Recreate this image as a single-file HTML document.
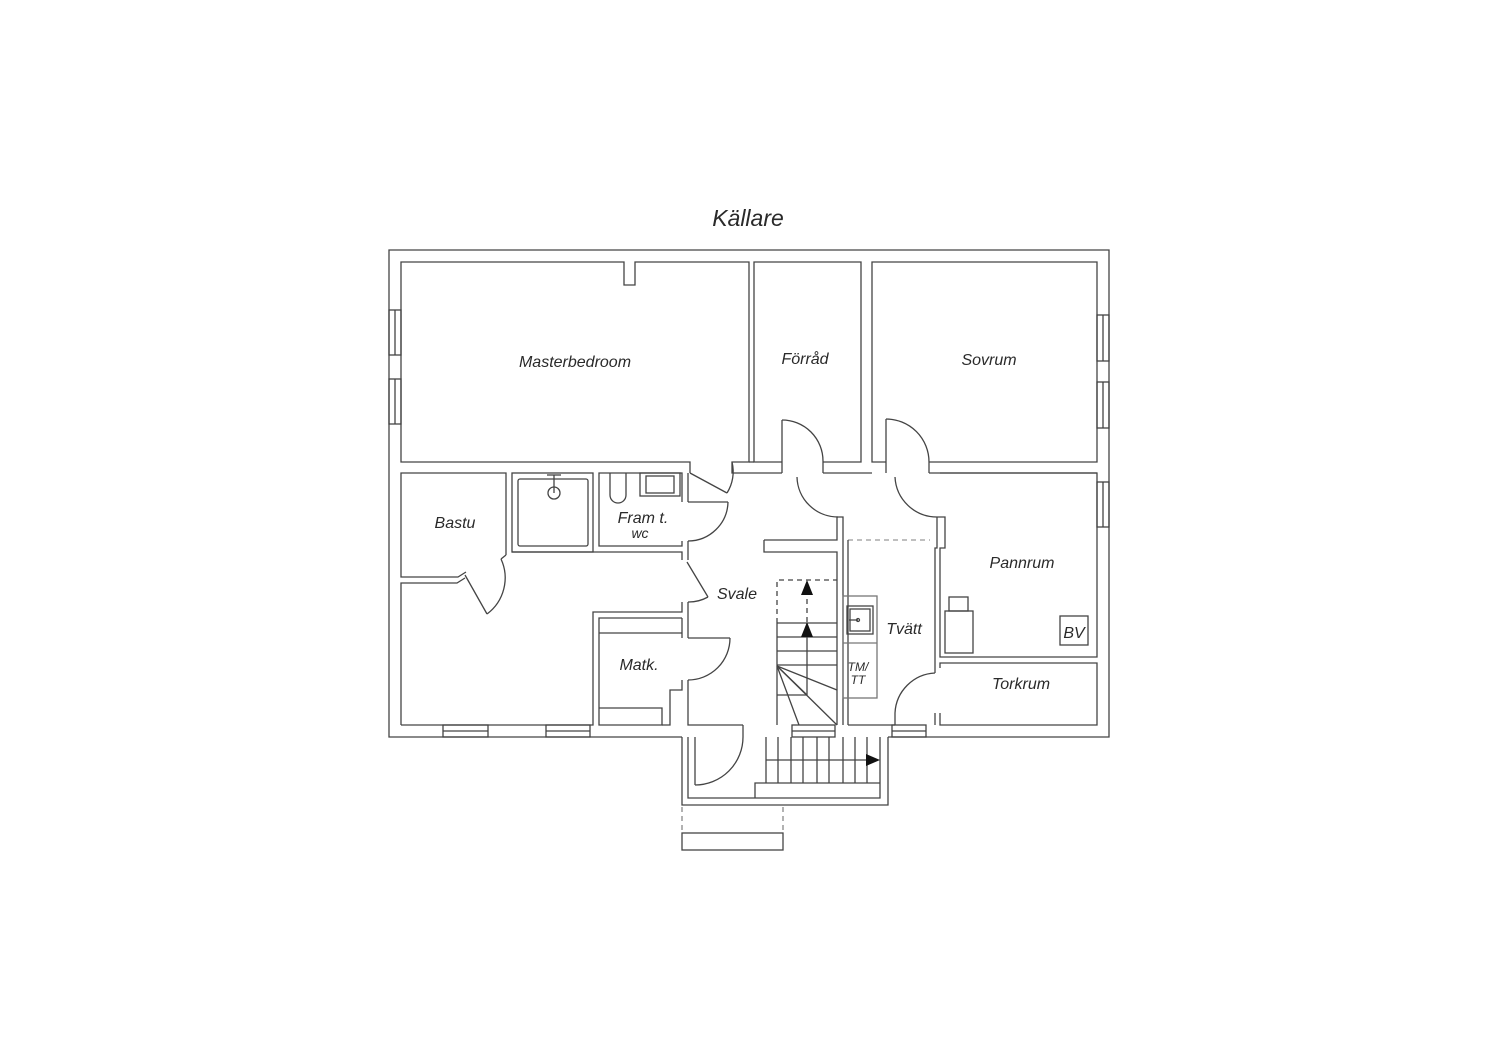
<!DOCTYPE html>
<html><head><meta charset="utf-8"><style>
html,body{margin:0;padding:0;background:#fff;}
svg{display:block}
text{font-family:"Liberation Sans",sans-serif;font-style:italic;fill:#2a2a2a;}
</style></head><body>
<svg width="1500" height="1060" viewBox="0 0 1500 1060" xmlns="http://www.w3.org/2000/svg">
<g fill="none" stroke="#444" stroke-width="1.3">
<!-- outer -->
<polyline points="682,737 389,737 389,250 1109,250 1109,737 888,737"/>
<!-- Masterbedroom -->
<polyline points="690,473 690,462 401,462 401,262 624,262 624,285 635,285 635,262 749,262 749,462 732,462 732,473 782,473"/>
<line x1="749" y1="462" x2="754" y2="462"/>
<!-- Förråd -->
<polyline points="782,462 754,462 754,262 861,262 861,462 823,462"/>
<polyline points="823,473 872,473"/>
<!-- Sovrum -->
<polyline points="886,462 872,462 872,262 1097,262 1097,462 929,462"/>
<line x1="929" y1="473" x2="1097" y2="473"/>
<!-- doors top -->
<line x1="782" y1="420" x2="782" y2="473"/><path d="M782,420 A41,41 0 0 1 823,461"/>
<line x1="823" y1="461" x2="823" y2="473"/>
<line x1="886" y1="419" x2="886" y2="473"/><path d="M886,419 A43,43 0 0 1 929,462"/>
<line x1="929" y1="462" x2="929" y2="473"/>
<path d="M797,477 A41,41 0 0 0 838,517"/>
<path d="M895,477 A42,42 0 0 0 937,517"/>
<!-- WC door from top -->
<line x1="690" y1="473" x2="727" y2="493"/><path d="M727,493 A40,40 0 0 0 732,462"/>
<!-- Bastu -->
<polyline points="506,555 506,473 401,473 401,577 458,577 466,572"/>
<polyline points="401,725 401,583 457,583 465,578"/>
<line x1="465" y1="575" x2="487" y2="614"/><path d="M487,614 A45,45 0 0 0 501,559"/>
<line x1="501" y1="559" x2="506" y2="555"/>
<!-- shower -->
<rect x="512" y="473" width="81" height="79"/>
<rect x="518" y="479" width="70" height="67" rx="2"/>
<circle cx="554" cy="493" r="6"/><line x1="554" y1="475" x2="554" y2="493"/>
<line x1="547" y1="475" x2="561" y2="475"/>
<!-- WC -->
<polyline points="682,502 682,473 599,473 599,546 682,546 682,541"/>
<polyline points="512,552 682,552 682,560"/>
<path d="M610,473 L610,495 A8,8 0 0 0 626,495 L626,473"/>
<rect x="640" y="473" width="40" height="23"/><rect x="646" y="476" width="28" height="17"/>
<line x1="688" y1="473" x2="688" y2="502"/>
<line x1="688" y1="502" x2="728" y2="502"/><path d="M728,502 A40,40 0 0 1 688,541"/>
<line x1="688" y1="541" x2="688" y2="560"/>
<line x1="687" y1="562" x2="708" y2="597"/><path d="M708,597 A40,40 0 0 1 688,602"/>
<polyline points="682,602 682,612 593,612 593,725 401,725"/>
<line x1="688" y1="602" x2="688" y2="638"/>
<!-- Matk -->
<polyline points="682,618 599,618 599,725 662,725 662,708 599,708"/>
<line x1="599" y1="633" x2="682" y2="633"/>
<line x1="682" y1="618" x2="682" y2="638"/>
<line x1="688" y1="638" x2="730" y2="638"/><path d="M730,638 A42,42 0 0 1 688,680"/>
<polyline points="688,680 688,725 743,725"/>
<polyline points="682,680 682,690 670,690 670,725 662,725"/>
<!-- windows bottom -->
<rect x="443" y="725" width="45" height="12"/><line x1="443" y1="731" x2="488" y2="731"/>
<rect x="546" y="725" width="44" height="12"/><line x1="546" y1="731" x2="590" y2="731"/>
<rect x="792" y="725" width="43" height="12"/><line x1="792" y1="731" x2="835" y2="731"/>
<rect x="892" y="725" width="34" height="12"/><line x1="892" y1="731" x2="926" y2="731"/>
<!-- windows sides -->
<rect x="389" y="310" width="12" height="45"/><line x1="395" y1="310" x2="395" y2="355"/>
<rect x="389" y="379" width="12" height="45"/><line x1="395" y1="379" x2="395" y2="424"/>
<rect x="1097" y="315" width="12" height="46"/><line x1="1103" y1="315" x2="1103" y2="361"/>
<rect x="1097" y="382" width="12" height="46"/><line x1="1103" y1="382" x2="1103" y2="428"/>
<rect x="1097" y="482" width="12" height="45"/><line x1="1103" y1="482" x2="1103" y2="527"/>
<!-- Svale right wall + stub -->
<polyline points="764,540 837,540 837,517 843,517 843,725"/>
<polyline points="764,540 764,552 837,552 837,725"/>
<!-- stairs -->
<path d="M777,623 L777,580 L837,580" stroke-dasharray="5,4"/>
<line x1="777" y1="623" x2="777" y2="725"/>
<line x1="777" y1="623" x2="837" y2="623"/><line x1="777" y1="637" x2="837" y2="637"/>
<line x1="777" y1="651" x2="837" y2="651"/><line x1="777" y1="665" x2="837" y2="665"/>
<line x1="777" y1="695" x2="807" y2="695"/>
<line x1="807" y1="695" x2="807" y2="636"/>
<line x1="807" y1="622" x2="807" y2="594" stroke-dasharray="5,4"/>
<line x1="777" y1="666" x2="799" y2="725"/><line x1="777" y1="666" x2="837" y2="725"/>
<line x1="777" y1="666" x2="837" y2="690"/><line x1="777" y1="666" x2="807" y2="695"/>
<!-- Tvätt -->
<line x1="848" y1="540" x2="930" y2="540" stroke-dasharray="5,4" stroke="#999"/>
<line x1="848" y1="540" x2="848" y2="725"/>
<rect x="843" y="596" width="34" height="102" stroke="#777"/>
<line x1="843" y1="643" x2="877" y2="643" stroke="#777"/>
<rect x="847" y="606" width="26" height="28"/><rect x="850" y="609" width="20" height="22"/>
<circle cx="858" cy="620" r="1.5"/><line x1="849" y1="620" x2="858" y2="620"/>
<polyline points="937,517 945,517 945,548 940,548 940,657 1097,657 1097,473 940,473"/>
<polyline points="937,517 937,548 935,548 935,636"/>
<line x1="935" y1="636" x2="935" y2="673"/>
<path d="M935,673 A42,42 0 0 0 895,713"/>
<line x1="895" y1="713" x2="895" y2="725"/>
<polyline points="848,725 895,725"/>
<polyline points="940,668 940,663 1097,663 1097,725 940,725 940,713"/>
<line x1="935" y1="713" x2="935" y2="725"/>
<!-- boiler & BV -->
<rect x="945" y="611" width="28" height="42"/><rect x="949" y="597" width="19" height="14"/>
<rect x="1060" y="616" width="28" height="29"/>
<!-- entrance -->
<polyline points="682,737 682,805 888,805 888,737"/>
<polyline points="688,737 688,798 880,798 880,737"/>
<line x1="743" y1="725" x2="743" y2="737"/>
<path d="M743,737 A48,48 0 0 1 695,785"/><line x1="695" y1="737" x2="695" y2="785"/>
<line x1="766" y1="737" x2="766" y2="783"/>
<line x1="778" y1="737" x2="778" y2="783"/><line x1="791" y1="737" x2="791" y2="783"/>
<line x1="803" y1="737" x2="803" y2="783"/><line x1="817" y1="737" x2="817" y2="783"/>
<line x1="829" y1="737" x2="829" y2="783"/><line x1="843" y1="737" x2="843" y2="783"/>
<line x1="855" y1="737" x2="855" y2="783"/><line x1="867" y1="737" x2="867" y2="783"/>
<line x1="766" y1="760" x2="868" y2="760"/>
<polyline points="755,798 755,783 880,783"/>
<line x1="682" y1="807" x2="682" y2="833" stroke-dasharray="5,4" stroke="#888"/>
<line x1="783" y1="807" x2="783" y2="833" stroke-dasharray="5,4" stroke="#888"/>
<rect x="682" y="833" width="101" height="17"/>
</g>
<g fill="#111">
<polygon points="807,580 801,595 813,595"/>
<polygon points="807,622 801,637 813,637"/>
<polygon points="880,760 866,754 866,766"/>
</g>
<text x="748" y="226" font-size="23" text-anchor="middle">Källare</text>
<g font-size="16" text-anchor="middle">
<text x="575" y="367">Masterbedroom</text>
<text x="805" y="364">Förråd</text>
<text x="989" y="365">Sovrum</text>
<text x="455" y="528">Bastu</text>
<text x="643" y="523">Fram t.</text>
<text x="640" y="538" font-size="14">wc</text>
<text x="737" y="599">Svale</text>
<text x="639" y="670">Matk.</text>
<text x="904" y="634">Tvätt</text>
<text x="1022" y="568">Pannrum</text>
<text x="1021" y="689">Torkrum</text>
<text x="1074" y="638">BV</text>
<text x="858" y="671" font-size="12">TM/</text>
<text x="858" y="684" font-size="12">TT</text>
</g>
</svg>
</body></html>
